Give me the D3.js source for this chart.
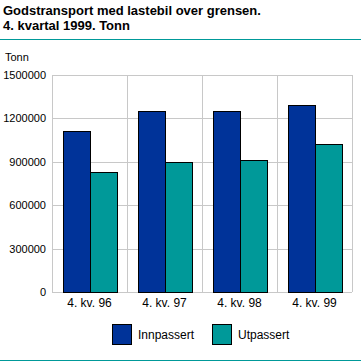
<!DOCTYPE html>
<html>
<head>
<meta charset="utf-8">
<script src="https://cdn.jsdelivr.net/npm/d3@7"></script>
<style>
  body { margin: 0; background: #fff; }
  text { font-family: "Liberation Sans", Arial, sans-serif; }
</style>
</head>
<body>
<div id="chart"></div>
<script>
// Data
var categories = ["4. kv. 96", "4. kv. 97", "4. kv. 98", "4. kv. 99"];
var seriesNames = ["Innpassert", "Utpassert"];
var innpassert = [1110000, 1250000, 1250000, 1290000];
var utpassert = [827000, 896000, 910000, 1020000];
var yTicks = [0, 300000, 600000, 900000, 1200000, 1500000];
var colors = ["#003399", "#009999"];

var width = 361, height = 361;
var margin = { left: 52, top: 75, right: 9, bottom: 69 };

var svg = d3.select("#chart").append("svg")
    .attr("width", width)
    .attr("height", height);

// Title
svg.append("text").attr("x", 3).attr("y", 15)
    .style("font-size", "13px").style("font-weight", "bold").attr("fill", "#000")
    .text("Godstransport med lastebil over grensen.");
svg.append("text").attr("x", 3).attr("y", 30)
    .style("font-size", "13px").style("font-weight", "bold").attr("fill", "#000")
    .text("4. kvartal 1999. Tonn");
svg.append("line").attr("x1", 0).attr("x2", width).attr("y1", 39.5).attr("y2", 39.5)
    .attr("stroke", "#009999").attr("stroke-width", 1);
svg.append("line").attr("x1", 0).attr("x2", width).attr("y1", 360.5).attr("y2", 360.5)
    .attr("stroke", "#009999").attr("stroke-width", 1);

svg.append("text").attr("x", 5).attr("y", 61)
    .style("font-size", "11px").text("Tonn");

// Scales
var x = d3.scaleBand().domain(categories)
    .range([margin.left, width - margin.right]);
var xInner = d3.scaleBand().domain(seriesNames)
    .range([0, x.bandwidth()]).paddingOuter(0.415);
var y = d3.scaleLinear().domain([0, 1500000])
    .range([height - margin.bottom, margin.top]);

var g = svg.append("g");

// Grid
g.selectAll(".hgrid").data(yTicks).enter().append("line")
    .attr("x1", margin.left).attr("x2", width - margin.right)
    .attr("y1", function (d) { return Math.round(y(d)) + 0.5; })
    .attr("y2", function (d) { return Math.round(y(d)) + 0.5; })
    .attr("stroke", "#c8c8c8");
var vlines = categories.map(function (c) { return x(c); }).concat([width - margin.right]);
g.selectAll(".vgrid").data(vlines).enter().append("line")
    .attr("x1", function (d) { return Math.round(d) + 0.5; })
    .attr("x2", function (d) { return Math.round(d) + 0.5; })
    .attr("y1", y(1500000)).attr("y2", y(0))
    .attr("stroke", "#c8c8c8");

// Y labels
g.selectAll(".ylab").data(yTicks).enter().append("text")
    .attr("x", 46).attr("y", function (d) { return y(d) + 4; })
    .attr("text-anchor", "end").style("font-size", "11px")
    .text(function (d) { return d; });

// Bars
var seriesData = [innpassert, utpassert];
seriesData.forEach(function (vals, si) {
    g.selectAll(".bar" + si).data(vals).enter().append("rect")
        .attr("x", function (d, i) { return Math.round(x(categories[i]) + xInner(seriesNames[si])) + 0.5; })
        .attr("y", function (d) { return Math.round(y(d)) + 0.5; })
        .attr("width", Math.round(xInner.bandwidth()))
        .attr("height", function (d) { return Math.round(y(0)) - Math.round(y(d)); })
        .attr("fill", colors[si])
        .attr("stroke", "#000").attr("stroke-width", 1);
});

// X labels
g.selectAll(".xlab").data(categories).enter().append("text")
    .attr("x", function (d) { return x(d) + x.bandwidth() / 2; })
    .attr("y", 307).attr("text-anchor", "middle")
    .style("font-size", "12px")
    .text(function (d) { return d; });

// Legend
var legendX = [112, 212];
seriesNames.forEach(function (name, i) {
    svg.append("rect").attr("x", legendX[i] + 0.5).attr("y", 324.5)
        .attr("width", 19).attr("height", 20)
        .attr("fill", colors[i]).attr("stroke", "#000");
    svg.append("text").attr("x", legendX[i] + 26).attr("y", 339)
        .style("font-size", "12px").text(name);
});
</script>
</body>
</html>
